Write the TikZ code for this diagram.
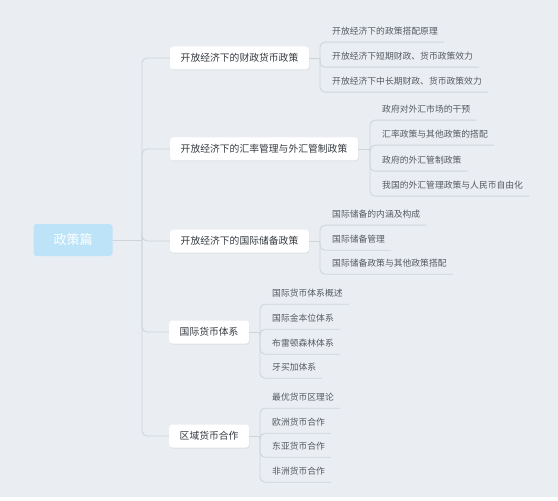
\documentclass[tikz,border=0pt]{standalone}
\usepackage{fontspec}
\newfontfamily\cjk{Noto Sans CJK SC}
\usetikzlibrary{shadows}
\definecolor{bgc}{HTML}{EAEEF3}
\definecolor{linec}{HTML}{CDD4DE}
\definecolor{rootc}{HTML}{BDE3F8}
\definecolor{leaftext}{HTML}{555A60}
\definecolor{maintext}{HTML}{353A40}

\begin{document}
\begin{tikzpicture}[x=1bp,y=-1bp,
    root/.style={fill=rootc,rounded corners=3bp,minimum width=79bp,minimum height=32bp,text=white,font=\cjk\fontsize{13bp}{15bp}\selectfont},
    main/.style={fill=white,rounded corners=3bp,minimum height=23bp,inner xsep=10.5bp,anchor=west,text=maintext,
        drop shadow={opacity=0.12,shadow xshift=0.6bp,shadow yshift=-1bp},font=\cjk\fontsize{9.8bp}{12bp}\selectfont},
    leaf/.style={inner xsep=0pt,minimum height=22bp,anchor=west,text=leaftext,font=\cjk\fontsize{8.8bp}{10bp}\selectfont},
    link/.style={draw=linec,line width=0.9bp,rounded corners=5bp}]
    \useasboundingbox (0,0) rectangle (558,501);
    \fill[bgc] (0,0) rectangle (558,497);
    \fill[white] (0,497) rectangle (558,501);

    \node[root] (root) at (73,240) {政策篇};
    \node[main] (m1) at (170,58) {开放经济下的财政货币政策};
    \node[main] (m2) at (170,149) {开放经济下的汇率管理与外汇管制政策};
    \node[main] (m3) at (170,241) {开放经济下的国际储备政策};
    \node[main] (m4) at (169,332) {国际货币体系};
    \node[main] (m5) at (169,436) {区域货币合作};

    \node[leaf] (l11) at (332,31) {开放经济下的政策搭配原理};
    \node[leaf] (l12) at (332,56) {开放经济下短期财政、货币政策效力};
    \node[leaf] (l13) at (332,81) {开放经济下中长期财政、货币政策效力};

    \node[leaf] (l21) at (382,109) {政府对外汇市场的干预};
    \node[leaf] (l22) at (382,134) {汇率政策与其他政策的搭配};
    \node[leaf] (l23) at (382,160) {政府的外汇管制政策};
    \node[leaf] (l24) at (382,185) {我国的外汇管理政策与人民币自由化};

    \node[leaf] (l31) at (332,214) {国际储备的内涵及构成};
    \node[leaf] (l32) at (332,239) {国际储备管理};
    \node[leaf] (l33) at (332,263) {国际储备政策与其他政策搭配};

    \node[leaf] (l41) at (272,293) {国际货币体系概述};
    \node[leaf] (l42) at (272,318) {国际金本位体系};
    \node[leaf] (l43) at (272,343) {布雷顿森林体系};
    \node[leaf] (l44) at (272,367) {牙买加体系};

    \node[leaf] (l51) at (272,397) {最优货币区理论};
    \node[leaf] (l52) at (272,422) {欧洲货币合作};
    \node[leaf] (l53) at (272,446) {东亚货币合作};
    \node[leaf] (l54) at (272,471) {非洲货币合作};

    % trunk
    \coordinate (t) at (142,240);
    \draw[link] (root.east) -- (t);
    \foreach \m in {m1,m2,m3,m4,m5}
        \draw[link] (t) |- (\m.west);

    % brackets
    \coordinate (b1) at (320,58);
    \coordinate (b2) at (370,149);
    \coordinate (b3) at (320,241);
    \coordinate (b4) at (260,332);
    \coordinate (b5) at (260,436);
    \draw[link] (m1.east) -- (b1);
    \draw[link] (m2.east) -- (b2);
    \draw[link] (m3.east) -- (b3);
    \draw[link] (m4.east) -- (b4);
    \draw[link] (m5.east) -- (b5);
    \foreach \l in {l11,l12,l13}
        \draw[link] (b1) |- ([xshift=6bp]\l.south east);
    \foreach \l in {l21,l22,l23,l24}
        \draw[link] (b2) |- ([xshift=6bp]\l.south east);
    \foreach \l in {l31,l32,l33}
        \draw[link] (b3) |- ([xshift=6bp]\l.south east);
    \foreach \l in {l41,l42,l43,l44}
        \draw[link] (b4) |- ([xshift=6bp]\l.south east);
    \foreach \l in {l51,l52,l53,l54}
        \draw[link] (b5) |- ([xshift=6bp]\l.south east);
\end{tikzpicture}
\end{document}
